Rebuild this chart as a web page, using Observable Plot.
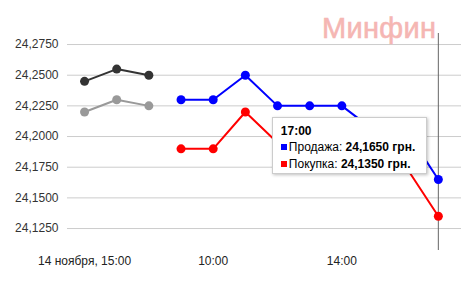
<!DOCTYPE html>
<html><head><meta charset="utf-8">
<script src="https://cdn.jsdelivr.net/npm/d3@7"></script>
<script src="https://cdn.jsdelivr.net/npm/@observablehq/plot@0.6"></script>
<style>
body{margin:0;background:#fff;font-family:Arial,"Liberation Sans",sans-serif}
#wrap{position:relative;width:463px;height:281px;overflow:hidden}
#wm{position:absolute;left:322px;top:14px;font-size:29px;line-height:29px;color:#f5b6b3;-webkit-text-stroke:0.6px #f5b6b3;letter-spacing:0.3px;white-space:nowrap}
#tip{position:absolute;background:#fff;border:1px solid #ccc;box-shadow:1px 1px 3px rgba(0,0,0,.25);font-size:12px;color:#000;padding:6px 8px 4px 8px;box-sizing:border-box;white-space:nowrap}
#tip .row{height:17px;line-height:17px}
#tip .sq{display:inline-block;width:6px;height:6px;margin-right:2px;vertical-align:1px}
</style>
</head><body>
<div id="wrap"></div>
<script>
// previous day (14 Nov) 15:00–17:00
const prevTimes = ["15:00", "16:00", "17:00"];
const prevSale = [24.245, 24.255, 24.250];
const prevBuy  = [24.220, 24.230, 24.225];
// current day 09:00–17:00
const times = ["09:00","10:00","11:00","12:00","13:00","14:00","15:00","16:00","17:00"];
const sale = [24.230, 24.230, 24.250, 24.225, 24.225, 24.225, 24.205, 24.205, 24.165];
const buy  = [24.190, 24.190, 24.220, 24.195, 24.195, 24.195, 24.175, 24.175, 24.135];
const yTicks = [24.125, 24.150, 24.175, 24.200, 24.225, 24.250, 24.275];
const xTickIdx = [0, 4, 8];
const xTickLabels = ["14 ноября, 15:00", "10:00", "14:00"];
const tipTitle = "17:00";
const saleLabel = "Продажа";
const buyLabel = "Покупка";

const fmt = d => d.toFixed(4).replace(".", ",");
const prev = prevTimes.map((t, i) => ({i, t, sale: prevSale[i], buy: prevBuy[i]}));
const cur = times.map((t, i) => ({i: i + prevTimes.length, t, sale: sale[i], buy: buy[i]}));
const lastIdx = cur[cur.length - 1].i;

const chart = Plot.plot({
  width: 463, height: 281,
  marginLeft: 67, marginRight: 2, marginTop: 33, marginBottom: 31,
  x: {domain: [-0.53, 11.72], axis: null, label: null},
  y: {domain: [24.1071, 24.2840], axis: null, label: null},
  style: {fontFamily: "Arial, 'Liberation Sans', sans-serif", fontSize: "12px", background: "transparent"},
  marks: [
    Plot.ruleY(yTicks, {stroke: "#cccccc", strokeWidth: 1}),
    Plot.axisY(yTicks, {tickSize: 0, tickPadding: 9, tickFormat: fmt, fill: "#333", fontSize: 12, label: null}),
    Plot.axisX(xTickIdx, {tickSize: 0, tickPadding: 6, tickFormat: d => xTickLabels[xTickIdx.indexOf(d)], fill: "#222", fontSize: 12, label: null}),
    Plot.ruleX([lastIdx], {stroke: "#666", strokeWidth: 1}),
    Plot.line(prev, {x: "i", y: "buy", stroke: "#999999", strokeWidth: 2}),
    Plot.dot(prev, {x: "i", y: "buy", fill: "#999999", r: 4.5}),
    Plot.line(prev, {x: "i", y: "sale", stroke: "#333333", strokeWidth: 2}),
    Plot.dot(prev, {x: "i", y: "sale", fill: "#333333", r: 4.5}),
    Plot.line(cur, {x: "i", y: "buy", stroke: "#ff0000", strokeWidth: 2}),
    Plot.dot(cur, {x: "i", y: "buy", fill: "#ff0000", r: 4.5}),
    Plot.line(cur, {x: "i", y: "sale", stroke: "#0000ff", strokeWidth: 2}),
    Plot.dot(cur, {x: "i", y: "sale", fill: "#0000ff", r: 4.5})
  ]
});
const wrap = document.getElementById("wrap");
wrap.appendChild(chart);

const wm = document.createElement("div");
wm.id = "wm"; wm.textContent = "Минфин";
wrap.appendChild(wm);

const xs = chart.scale("x"), ys = chart.scale("y");
const lastSale = sale[sale.length - 1], lastBuy = buy[buy.length - 1];
const tip = document.createElement("div");
tip.id = "tip";
tip.style.left = (xs.apply(lastIdx) - 166) + "px";
tip.style.top = (ys.apply(lastSale) - 62) + "px";
tip.style.width = "155px";
tip.style.height = "57px";
tip.innerHTML =
  `<div class="row" style="font-weight:bold;line-height:15px;height:15px">${tipTitle}</div>` +
  `<div class="row"><span class="sq" style="background:#0000ff"></span>${saleLabel}: <b>${fmt(lastSale)} грн.</b></div>` +
  `<div class="row"><span class="sq" style="background:#ff0000"></span>${buyLabel}: <b>${fmt(lastBuy)} грн.</b></div>`;
wrap.appendChild(tip);
</script>
</body></html>
